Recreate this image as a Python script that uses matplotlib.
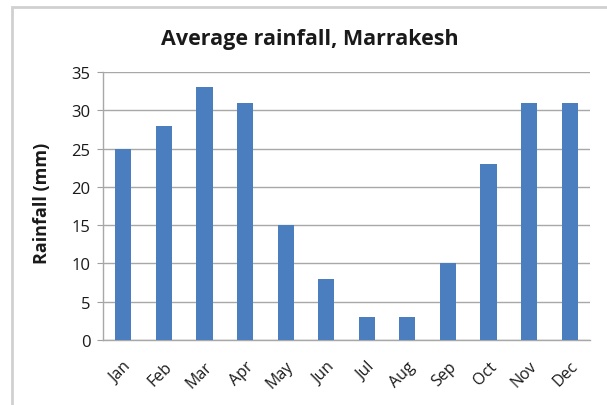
import matplotlib
matplotlib.use("Agg")
import matplotlib.pyplot as plt
from matplotlib.patches import Rectangle

months = ["Jan", "Feb", "Mar", "Apr", "May", "Jun", "Jul", "Aug", "Sep", "Oct", "Nov", "Dec"]
rainfall = [25, 28, 33, 31, 15, 8, 3, 3, 10, 23, 31, 31]
yticks = [0, 5, 10, 15, 20, 25, 30, 35]

plt.rcParams['font.family'] = ['Open Sans', 'DejaVu Sans']

W, H = 607, 406
fig = plt.figure(figsize=(W / 100, H / 100), dpi=100)
fig.patch.set_facecolor('white')

# chart frame
fig.patches.append(Rectangle((12 / W, -0.05), 1.1, 1 - 8 / H + 0.05, transform=fig.transFigure,
                             fill=False, edgecolor='#D0D0D0', linewidth=2.0))

ax = fig.add_axes([103 / W, 1 - 341 / H, (590 - 103) / W, (341 - 73) / H])
x = list(range(len(months)))
ax.bar(x, rainfall, width=0.4, color='#4A7EBF', zorder=3)
ax.set_xlim(-0.5, len(months) - 0.5)
ax.set_ylim(0, 35)
ax.set_yticks(yticks)
ax.set_xticks(x)
ax.set_xticklabels(months, rotation=45, ha='right', rotation_mode='anchor', fontsize=11.5, color='#1A1A1A')
ax.tick_params(axis='y', labelsize=12, colors='#1A1A1A', length=4, color='#A0A0A0', pad=5)
ax.tick_params(axis='x', length=0, pad=13)
for t in ax.get_xticklabels():
    t.set_color('#1A1A1A')
ax.grid(axis='y', color='#A8A8A8', linewidth=1.0, zorder=0)
for s in ['top', 'right']:
    ax.spines[s].set_visible(False)
for s in ['left', 'bottom']:
    ax.spines[s].set_color('#A8A8A8')
    ax.spines[s].set_linewidth(1.0)

ax.set_ylabel("Rainfall (mm)", fontsize=13, fontweight='bold', color='#1A1A1A', labelpad=8)
ax.yaxis.set_label_coords(42 / W, 0.5, transform=fig.transFigure)
ax.yaxis.label.set_va('center')
fig.text(310 / W, 1 - 40 / H, "Average rainfall, Marrakesh", ha='center', va='center',
         fontsize=15.5, fontweight='bold', color='#1A1A1A')

fig.savefig("out.png", dpi=100)
